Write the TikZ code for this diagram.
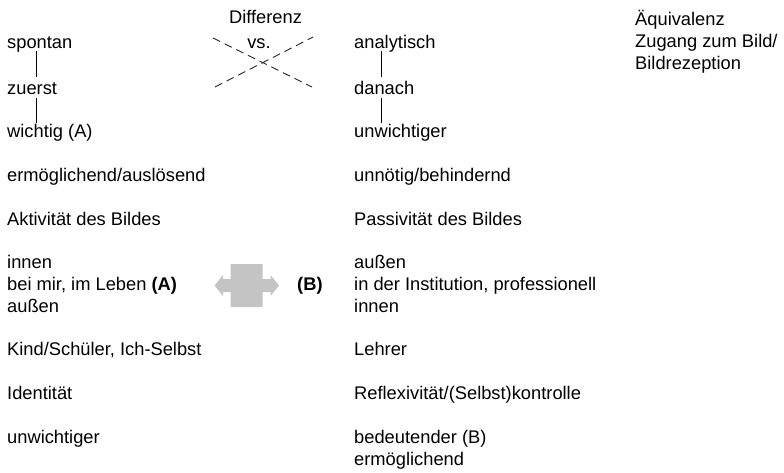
\documentclass[tikz,border=0pt]{standalone}
\usepackage{fontspec}
\setmainfont{Liberation Sans}
\usetikzlibrary{calc}
\begin{document}
\begin{tikzpicture}[x=1pt,y=-1pt,
  txt/.style={anchor=base west,inner sep=0pt,font=\fontsize{18.3}{22}\selectfont},
  ctxt/.style={anchor=base,inner sep=0pt,font=\fontsize{18.3}{22}\selectfont},
  conn/.style={line width=0.9pt,black},
  crossline/.style={line width=0.9pt,black!85,dash pattern=on 8pt off 5pt},
  arrowshape/.style={fill=black!23,draw=none}]
\useasboundingbox (0,0) rectangle (784,472);
% left column
\node[txt] (spontan) at (7,48) {spontan};
\node[txt] (zuerst) at (7,94) {zuerst};
\node[txt] (wichtig) at (7,137) {wichtig (A)};
\node[txt] (ermoeg) at (7,181) {ermöglichend/auslösend};
\node[txt] (aktiv) at (7,225) {Aktivität des Bildes};
\node[txt] (innenL) at (7,268) {innen};
\node[txt] (beimir) at (7,290) {bei mir, im Leben \textbf{(A)}};
\node[txt] (aussenL) at (7,312) {außen};
\node[txt] (kind) at (7,355) {Kind/Schüler, Ich-Selbst};
\node[txt] (ident) at (7,399) {Identität};
\node[txt] (unwL) at (7,443) {unwichtiger};
% right column
\node[txt] (analyt) at (354,48) {analytisch};
\node[txt] (danach) at (354,94) {danach};
\node[txt] (unwR) at (354,137) {unwichtiger};
\node[txt] (unnoet) at (354,181) {unnötig/behindernd};
\node[txt] (passiv) at (354,225) {Passivität des Bildes};
\node[txt] (aussenR) at (354,268) {außen};
\node[txt] (inst) at (354,290) {in der Institution, professionell};
\node[txt] (innenR) at (354,312) {innen};
\node[txt] (lehrer) at (354,355) {Lehrer};
\node[txt] (reflex) at (354,399) {Reflexivität/(Selbst)kontrolle};
\node[txt] (bedeut) at (354,443) {bedeutender (B)};
\node[txt] (ermoegR) at (354,465) {ermöglichend};
% third column
\node[txt] (aequi) at (635,25) {Äquivalenz};
\node[txt] (zugang) at (635,47) {Zugang zum Bild/};
\node[txt] (rezep) at (635,69) {Bildrezeption};
% middle
\node[ctxt] (diff) at (265.5,23) {Differenz};
\node[ctxt] (vs) at (259,48) {vs.};
\node[txt] (B) at (297,290) {\textbf{(B)}};
% connectors
\draw[conn] ([xshift=29pt,yshift=-3pt]spontan.base west) -- ([xshift=29pt,yshift=17pt]zuerst.base west);
\draw[conn] ([xshift=29pt,yshift=-4pt]zuerst.base west) -- ([xshift=29pt,yshift=14pt]wichtig.base west);
\draw[conn] ([xshift=27pt,yshift=-3pt]analyt.base west) -- ([xshift=27pt,yshift=17pt]danach.base west);
\draw[conn] ([xshift=27pt,yshift=-4pt]danach.base west) -- ([xshift=27pt,yshift=14pt]unwR.base west);
% dashed cross
\coordinate (c1) at (213,38);
\coordinate (c2) at (312,87);
\coordinate (c3) at (215,87);
\coordinate (c4) at (313,37);
\draw[crossline] (c1) -- (c2);
\draw[crossline] (c3) -- (c4);
% double arrow
\fill[arrowshape] (214.5,285.5) -- (223,275) -- (223,279) -- (230.7,279) -- (230.7,264)
  -- (262.7,264) -- (262.7,279) -- (270.5,279) -- (270.5,275) -- (279,285.5)
  -- (270.5,296) -- (270.5,292) -- (262.7,292) -- (262.7,307) -- (230.7,307)
  -- (230.7,292) -- (223,292) -- (223,296) -- cycle;
\end{tikzpicture}
\end{document}
